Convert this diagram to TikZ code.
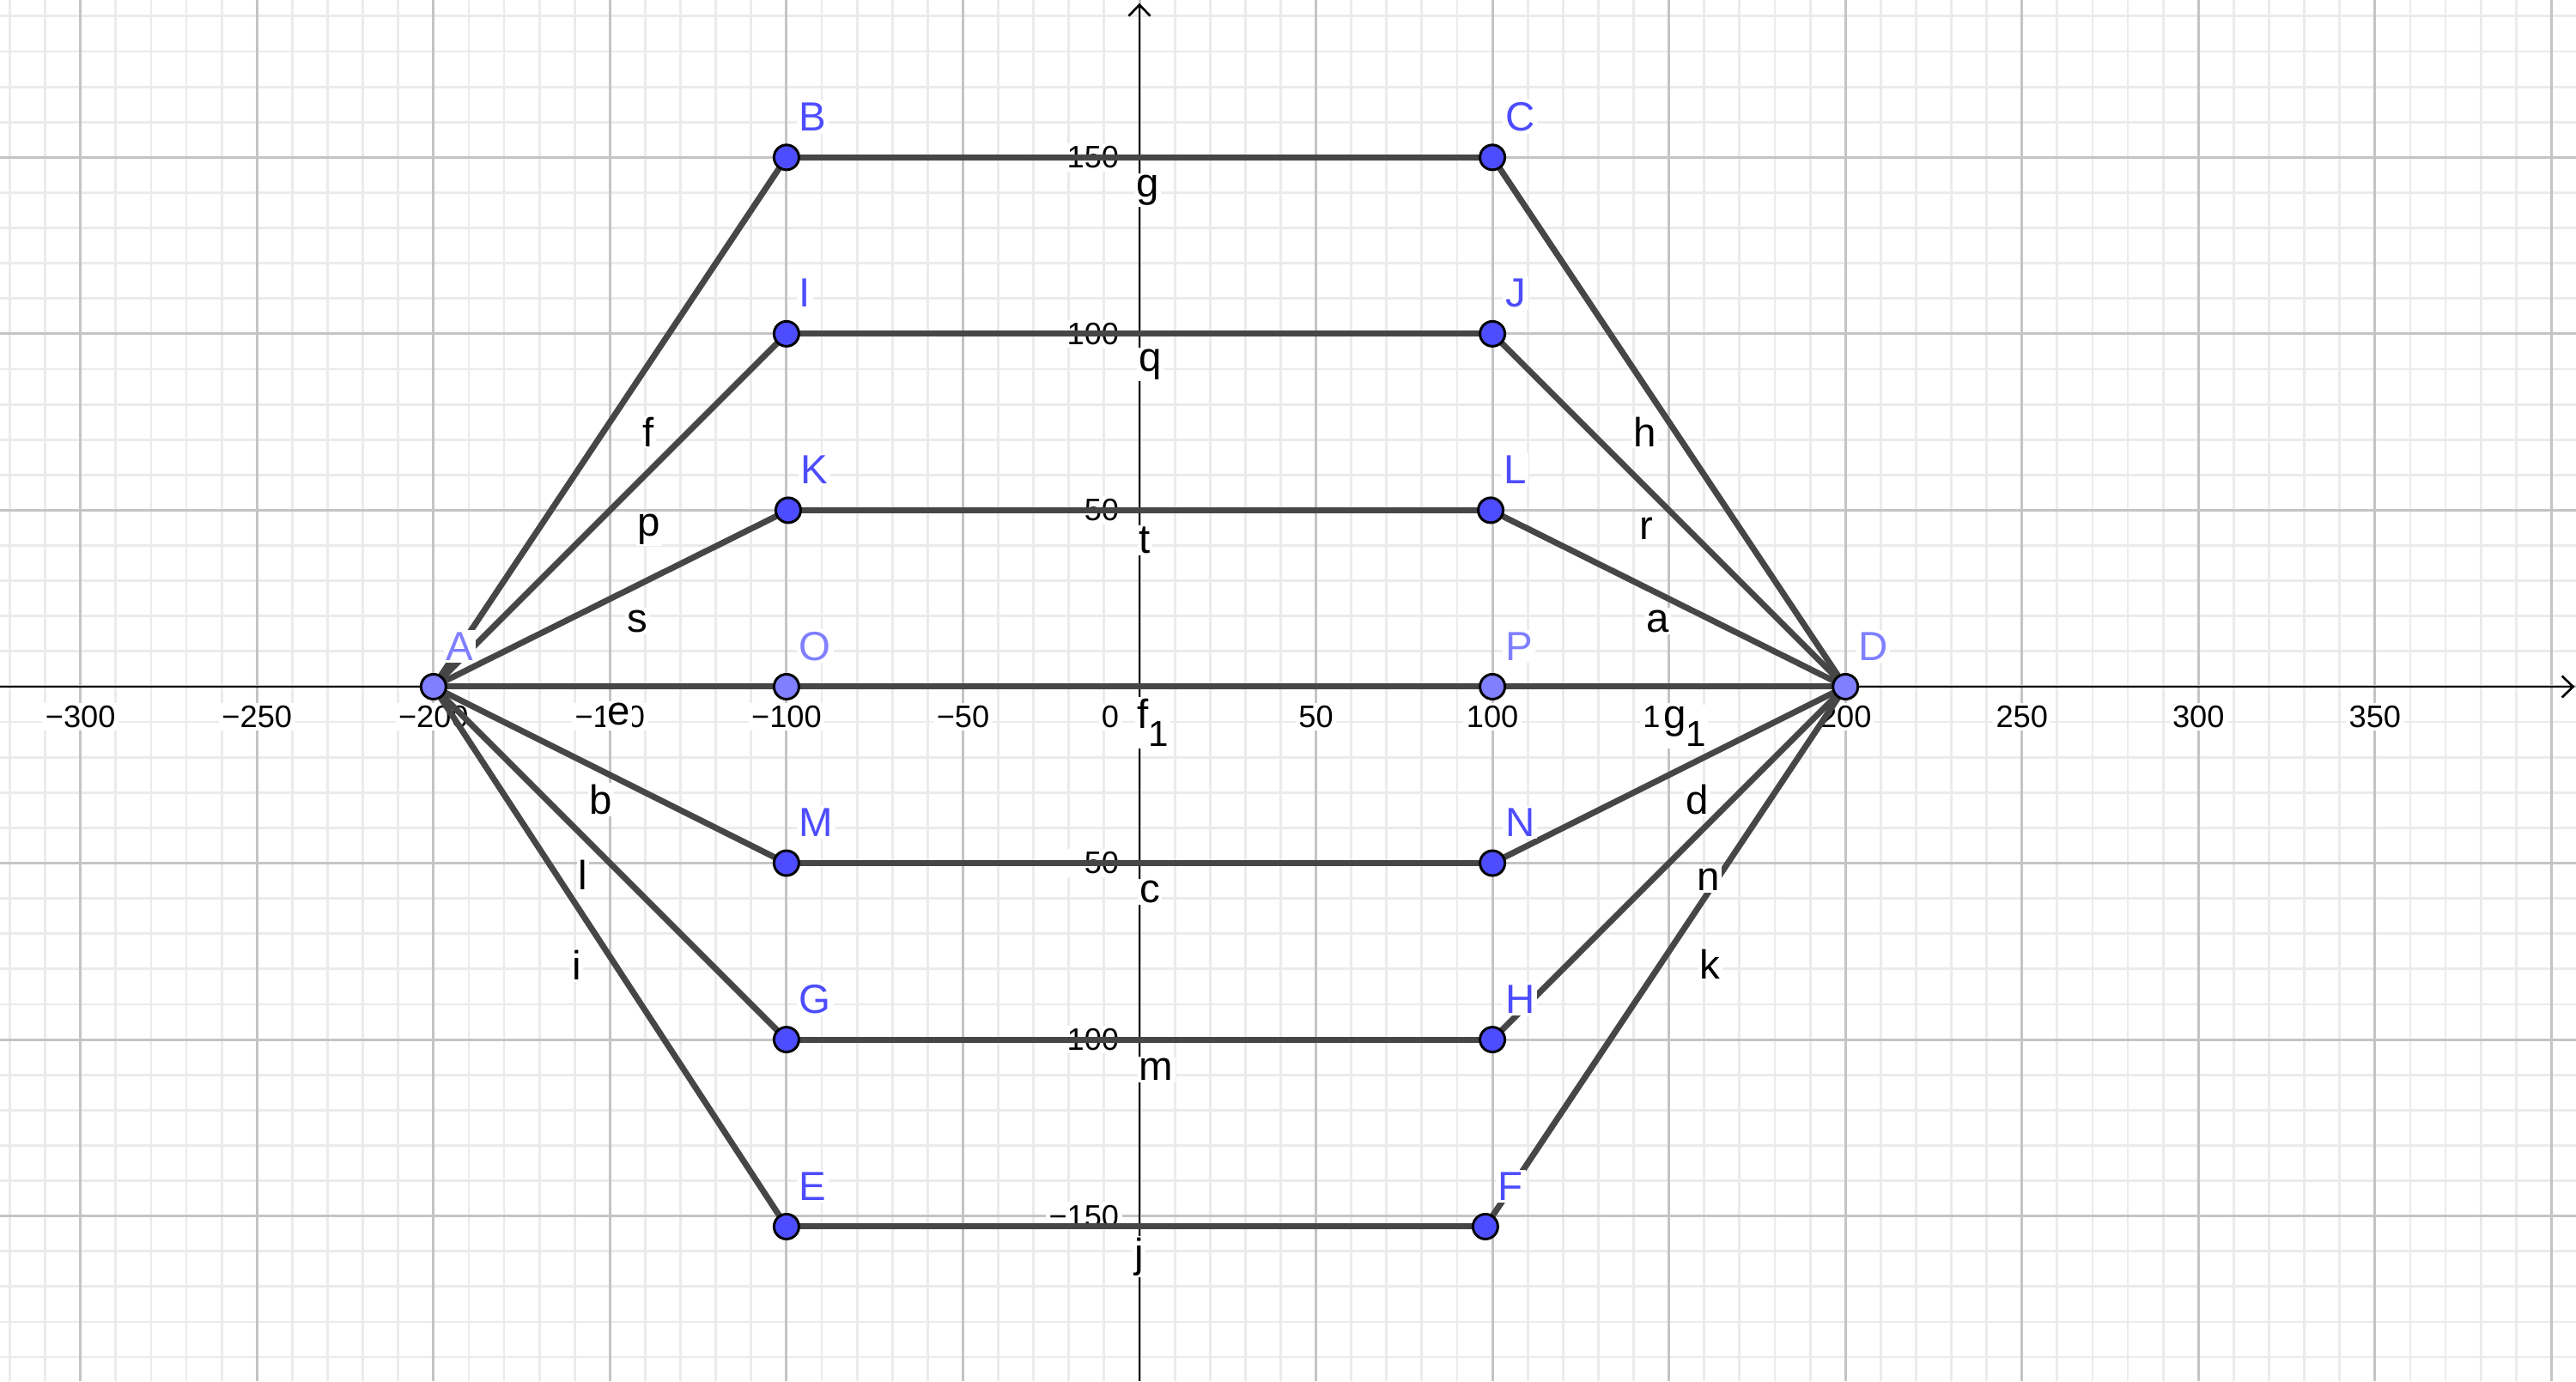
\documentclass[tikz,border=0pt]{standalone}
\usepackage{fontspec}
\setmainfont{Liberation Sans}
\usetikzlibrary{arrows.meta,calc}
\definecolor{segc}{HTML}{464646}
\definecolor{ptdark}{HTML}{4D4DFF}
\definecolor{ptlight}{HTML}{7F7FFF}
\definecolor{gridmaj}{HTML}{C4C4C4}
\definecolor{gridmin}{HTML}{EBEBEB}
\begin{document}
\begin{tikzpicture}[x=0.04111cm,y=0.04111cm,
  gmin/.style={draw=gridmin,line width=0.8pt},
  gmaj/.style={draw=gridmaj,line width=0.85pt},
  axisline/.style={draw=black,line width=0.75pt,-{Straight Barb[length=1.3mm,width=2.5mm]}},
  seg/.style={draw=segc,line width=2pt,line cap=round},
  ptd/.style={circle,draw=black,line width=0.85pt,fill=ptdark,minimum size=0.29cm,inner sep=0pt},
  ptl/.style={ptd,fill=ptlight},
  plab/.style={anchor=west,font=\fontsize{13.5}{16}\selectfont,fill=white,inner sep=0.8pt},
  pld/.style={plab,text=ptdark},
  pll/.style={plab,text=ptlight},
  slab/.style={font=\fontsize{13.5}{16}\selectfont,fill=white,inner sep=0.6pt},
  sublab/.style={slab,anchor=base west},
  tlab/.style={font=\fontsize{10.3}{12}\selectfont,fill=white,inner sep=1pt},
]
\newcommand{\subone}{\raisebox{-6pt}{\fontsize{12}{14}\selectfont 1}}
% canvas
\useasboundingbox (-322.8,-196.8) rectangle (406.96,194.6);
\fill[white] (-322.8,-196.8) rectangle (406.96,194.6);
% grid
\foreach \x in {-320,-310,...,400} \draw[gmin] (\x,-196.8) -- (\x,194.6);
\foreach \y in {-190,-180,...,190} \draw[gmin] (-322.8,\y) -- (406.96,\y);
\foreach \x in {-300,-250,...,400} \draw[gmaj] (\x,-196.8) -- (\x,194.6);
\foreach \y in {-150,-100,...,150} \draw[gmaj] (-322.8,\y) -- (406.96,\y);
% axes
\coordinate (xs) at (-322.8,0);
\coordinate (xe) at (406.6,0);
\coordinate (ys) at (0,-196.8);
\coordinate (ye) at (0,193.7);
\draw[axisline] (xs) -- (xe);
\draw[axisline] (ys) -- (ye);
% tick labels
\foreach \v/\t [count=\i] in {-300/{−300},-250/{−250},-200/{−200},-150/{−150},-100/{−100},-50/{−50},50/50,100/100,150/150,200/200,250/250,300/300,350/350}
  \node[tlab] (tx\i) at (\v,-8.5) {\t};
\node[tlab,anchor=east] (tzero) at (-4.8,-8.5) {0};
\foreach \v/\t [count=\i] in {-150/{−150},-100/{−100},-50/{−50},50/50,100/100,150/150}
  \node[tlab,anchor=east] (ty\i) at (-4.8,\v) {\t};
% point coordinates
\coordinate (A) at (-200,0);
\coordinate (O) at (-100,0);
\coordinate (P) at (100,0);
\coordinate (D) at (200,0);
\coordinate (B) at (-100,150);
\coordinate (C) at (100,150);
\coordinate (I) at (-100,100);
\coordinate (J) at (100,100);
\coordinate (K) at (-99.5,50);
\coordinate (L) at (99.5,50);
\coordinate (M) at (-100,-50);
\coordinate (N) at (100,-50);
\coordinate (G) at (-100,-100);
\coordinate (H) at (100,-100);
\coordinate (E) at (-100,-153);
\coordinate (F) at (98,-153);
% segments
\draw[seg] (A) -- (B);
\draw[seg] (A) -- (I);
\draw[seg] (A) -- (K);
\draw[seg] (A) -- (O);
\draw[seg] (O) -- (P);
\draw[seg] (P) -- (D);
\draw[seg] (A) -- (M);
\draw[seg] (A) -- (G);
\draw[seg] (A) -- (E);
\draw[seg] (B) -- (C);
\draw[seg] (I) -- (J);
\draw[seg] (K) -- (L);
\draw[seg] (M) -- (N);
\draw[seg] (G) -- (H);
\draw[seg] (E) -- (F);
\draw[seg] (C) -- (D);
\draw[seg] (J) -- (D);
\draw[seg] (L) -- (D);
\draw[seg] (N) -- (D);
\draw[seg] (H) -- (D);
\draw[seg] (F) -- (D);
% points
\foreach \p in {A,O,P,D} \node[ptl] (pt\p) at (\p) {};
\foreach \p in {B,C,I,J,K,L,M,N,G,H,E,F} \node[ptd] (pt\p) at (\p) {};
% segment labels
\node[slab] (lf) at (-139.0,72.2) {f};
\node[slab] (lp) at (-138.9,44.6) {p};
\node[slab] (ls) at (-142.2,18.6) {s};
\node[slab] (le) at (-147.6,-7.9) {e};
\node[slab] (lb) at (-152.5,-32.0) {b};
\node[slab] (ll) at (-157.6,-53.4) {l};
\node[slab] (li) at (-159.5,-79.0) {i};
\node[slab] (lg) at (2.4,140.7) {g};
\node[slab] (lq) at (3.0,91.3) {q};
\node[slab] (lt) at (1.6,41.4) {t};
\node[slab] (lc) at (3.0,-58.2) {c};
\node[slab] (lm) at (4.8,-108.5) {m};
\node[slab] (lj) at (-0.1,-161.5) {j};
\node[slab] (lh) at (143.1,72.2) {h};
\node[slab] (lr) at (143.5,44.7) {r};
\node[slab] (la) at (146.8,18.6) {a};
\node[slab] (ld) at (158.0,-32.0) {d};
\node[slab] (ln) at (161.3,-54.7) {n};
\node[slab] (lk) at (161.7,-78.6) {k};
\node[sublab] (lfone) at (-1.3,-11.8) {f\subone};
\node[sublab] (lgone) at (147.8,-11.8) {g\subone};
% point labels
\node[pll] (lA) at ($(A)+(2.8,11.5)$) {A};
\node[pll] (lO) at ($(O)+(2.8,11.5)$) {O};
\node[pll] (lP) at ($(P)+(2.8,11.5)$) {P};
\node[pll] (lD) at ($(D)+(2.8,11.5)$) {D};
\node[pld] (lB) at ($(B)+(2.8,11.5)$) {B};
\node[pld] (lC) at ($(C)+(2.8,11.5)$) {C};
\node[pld] (lI) at ($(I)+(2.8,11.5)$) {I};
\node[pld] (lJ) at ($(J)+(2.8,11.5)$) {J};
\node[pld] (lK) at ($(K)+(2.8,11.5)$) {K};
\node[pld] (lL) at ($(L)+(2.8,11.5)$) {L};
\node[pld] (lM) at ($(M)+(2.8,11.5)$) {M};
\node[pld] (lN) at ($(N)+(2.8,11.5)$) {N};
\node[pld] (lG) at ($(G)+(2.8,11.5)$) {G};
\node[pld] (lH) at ($(H)+(2.8,11.5)$) {H};
\node[pld] (lE) at ($(E)+(2.8,11.5)$) {E};
\node[pld] (lF) at ($(F)+(2.8,11.5)$) {F};
\end{tikzpicture}
\end{document}
